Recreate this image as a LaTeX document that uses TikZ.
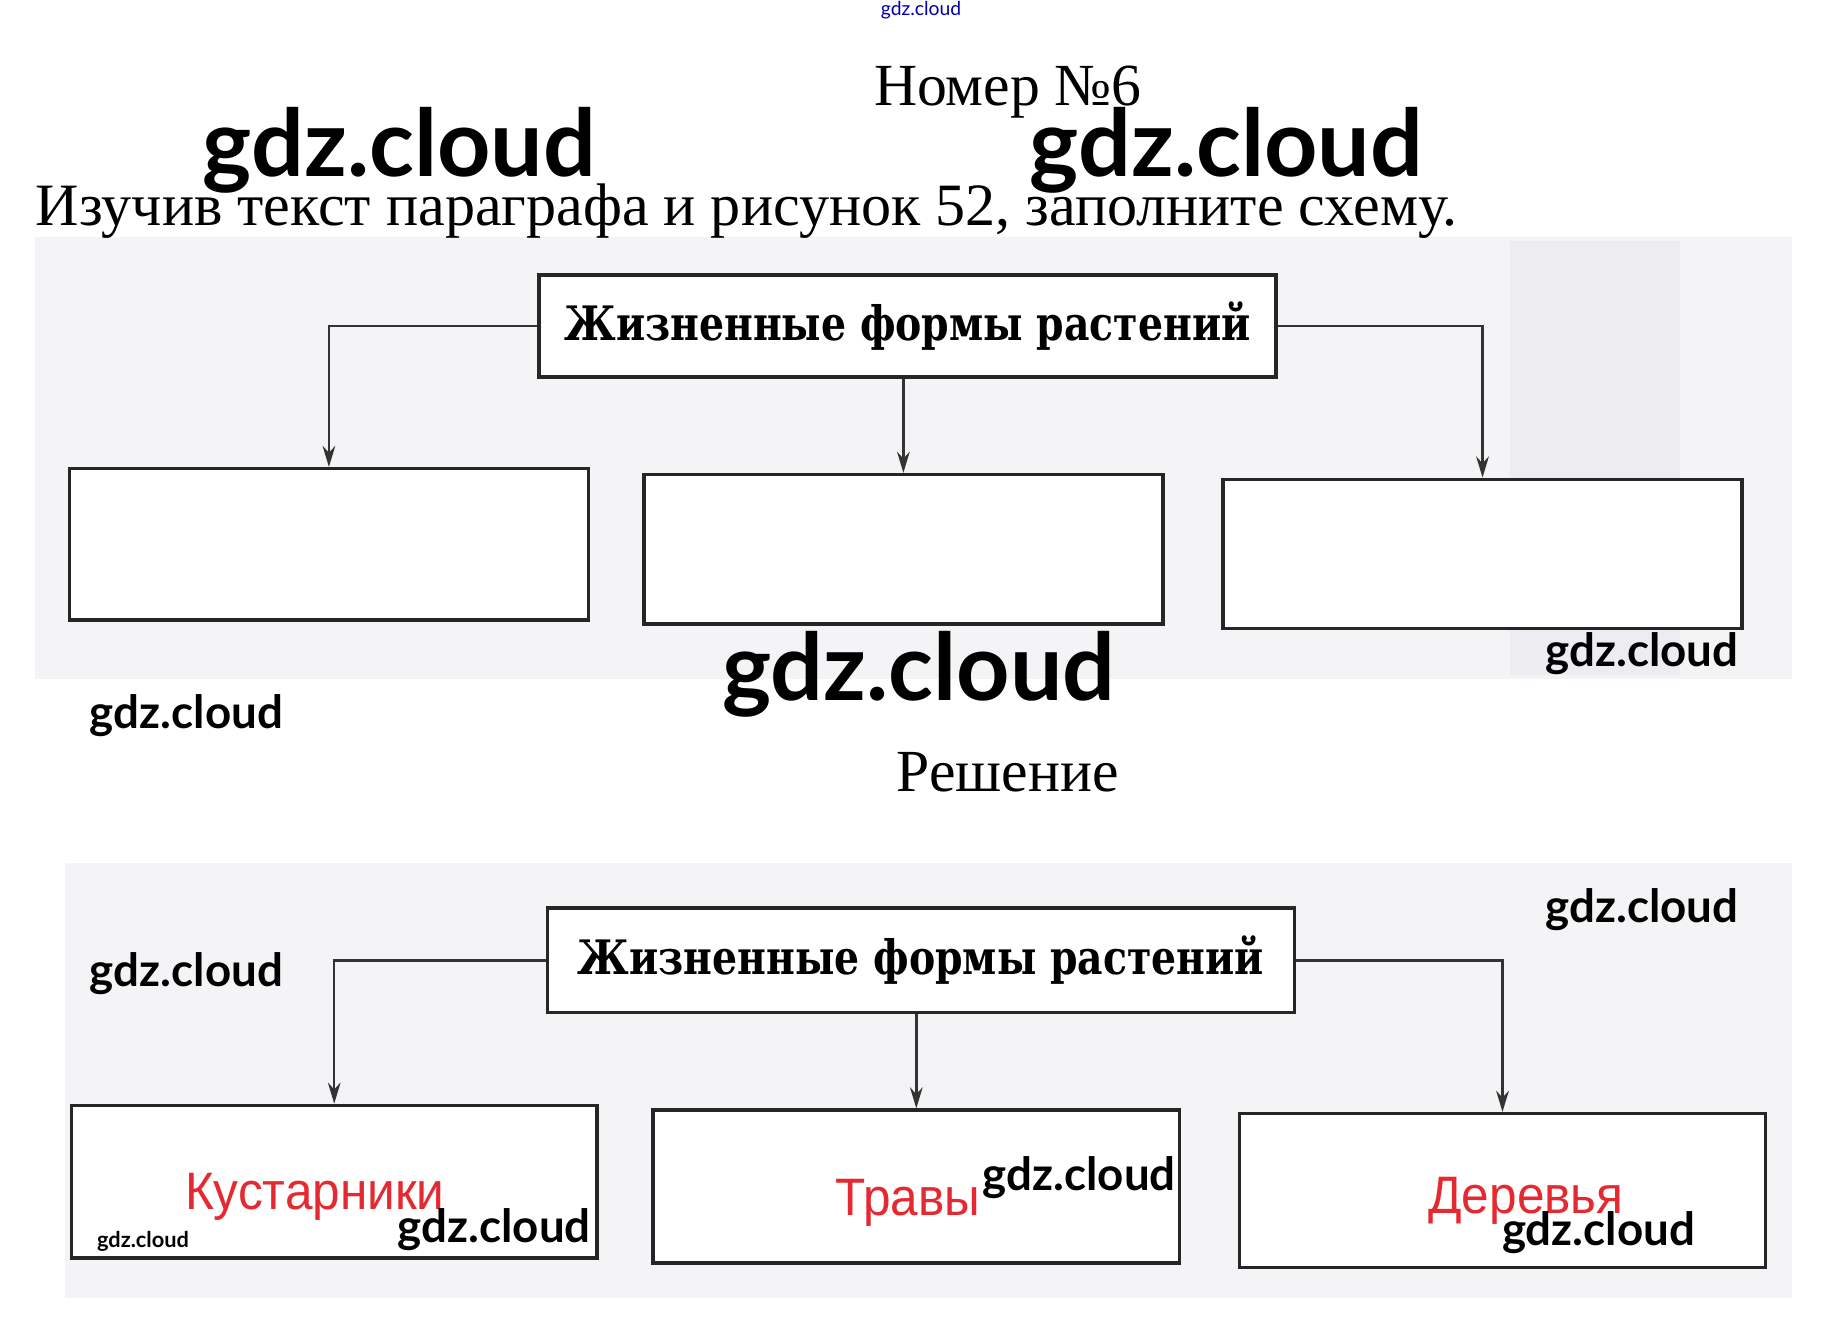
\documentclass[tikz,border=0pt]{standalone}
\usepackage{graphicx}
\usepackage{fontspec}
\setmainfont{Liberation Serif}
\newfontfamily\wmfont{Lato}
\newfontfamily\hdrfont{DejaVu Serif}
\newfontfamily\ansfont{Liberation Sans}
\usetikzlibrary{arrows.meta}
\definecolor{ansred}{RGB}{228,42,48}
\definecolor{panel}{RGB}{244,244,246}
\definecolor{band}{RGB}{236,236,241}
\newdimen\pxu
\pxu=0.011747cm
\newcommand{\hdrtext}{\scalebox{0.83}[1]{Жизненные формы растений}}
\begin{document}
\begin{tikzpicture}[x=0.011747cm,y=-0.011747cm,
  wmbig/.style={anchor=base west,inner sep=0pt,font=\wmfont\bfseries\fontsize{26.5}{30}\selectfont},
  wmsmall/.style={anchor=base west,inner sep=0pt,font=\wmfont\bfseries\fontsize{13}{15}\selectfont},
  wmtiny/.style={anchor=base west,inner sep=0pt,font=\wmfont\bfseries\fontsize{6.2}{7}\selectfont},
  hdrbox/.style={draw=black!85,line width=1pt,fill=white,inner sep=0pt,font=\hdrfont\bfseries\fontsize{13.5}{16}\selectfont},
  cell/.style={draw=black!85,line width=1pt,fill=white,inner sep=0pt},
  conn/.style={draw=black!80,line width=0.7pt,-{Stealth[length=6pt,width=3.6pt]}},
  ans/.style={anchor=base,inner sep=0pt,text=ansred,xscale=0.94,font=\ansfont\fontsize{15}{17}\selectfont},
  heading/.style={anchor=base,inner sep=0pt,font=\fontsize{17}{20}\selectfont}]
\useasboundingbox (0,0) rectangle (1568,1136);
\fill[white] (0,0) rectangle (1568,1136);
% scanned panels
\fill[panel] (30,202) rectangle (1525,578);
\fill[band] (1285,205) rectangle (1430,575);
\fill[panel] (55,735) rectangle (1525,1105);
% headings
\node[anchor=base,inner sep=0pt,text=blue!70!black,font=\wmfont\fontsize{5.5}{6}\selectfont] (wtop) at (784,13) {gdz.cloud};
\node[heading] (title) at (858,90) {Номер №6};
\node[anchor=base west,inner sep=0pt,font=\fontsize{17.1}{20}\selectfont] (task) at (30,192) {Изучив текст параграфа и рисунок 52, заполните схему.};
\node[heading] (sol) at (858,674) {Решение};
% top scheme
\node[hdrbox,minimum width=627\pxu,minimum height=87\pxu] (h1) at (772.5,277.5) {\hdrtext};
\node[cell,minimum width=442\pxu,minimum height=129\pxu] (a1) at (280,463.5) {};
\node[cell,minimum width=442\pxu,minimum height=127\pxu] (a2) at (769,467.5) {};
\node[cell,minimum width=442\pxu,minimum height=127\pxu] (a3) at (1262,471.5) {};
\draw[conn] (h1.west) -| (a1.north);
\draw[conn] (a2.north |- h1.south) -- (a2.north);
\draw[conn] (h1.east) -| (a3.north);
% bottom scheme
\node[hdrbox,minimum width=636\pxu,minimum height=89\pxu] (h2) at (784,817.5) {\hdrtext};
\node[cell,minimum width=447\pxu,minimum height=130\pxu] (c1) at (284.5,1006) {};
\node[cell,minimum width=448\pxu,minimum height=130\pxu] (c2) at (780,1010) {};
\node[cell,minimum width=448\pxu,minimum height=131\pxu] (c3) at (1279,1013.5) {};
\draw[conn] (h2.west) -| (c1.north);
\draw[conn] (c2.north |- h2.south) -- (c2.north);
\draw[conn] (h2.east) -| (c3.north);
\node[ans] (t1) at (268,1030) {Кустарники};
\node[ans] (t2) at (773,1035) {Травы};
\node[ans] (t3) at (1299,1033) {Деревья};
% watermarks
\node[wmbig] (w1) at (172,150) {gdz.cloud};
\node[wmbig] (w2) at (876,150) {gdz.cloud};
\node[wmbig] (w3) at (614,596) {gdz.cloud};
\node[wmsmall] (w4) at (76,620) {gdz.cloud};
\node[wmsmall] (w5) at (1315,567) {gdz.cloud};
\node[wmsmall] (w6) at (1315,785) {gdz.cloud};
\node[wmsmall] (w7) at (76,840) {gdz.cloud};
\node[wmsmall] (w8) at (836,1013) {gdz.cloud};
\node[wmsmall] (w9) at (338,1058) {gdz.cloud};
\node[wmsmall] (w10) at (1278,1060) {gdz.cloud};
\node[wmtiny] (w11) at (82,1062) {gdz.cloud};
\end{tikzpicture}
\end{document}
